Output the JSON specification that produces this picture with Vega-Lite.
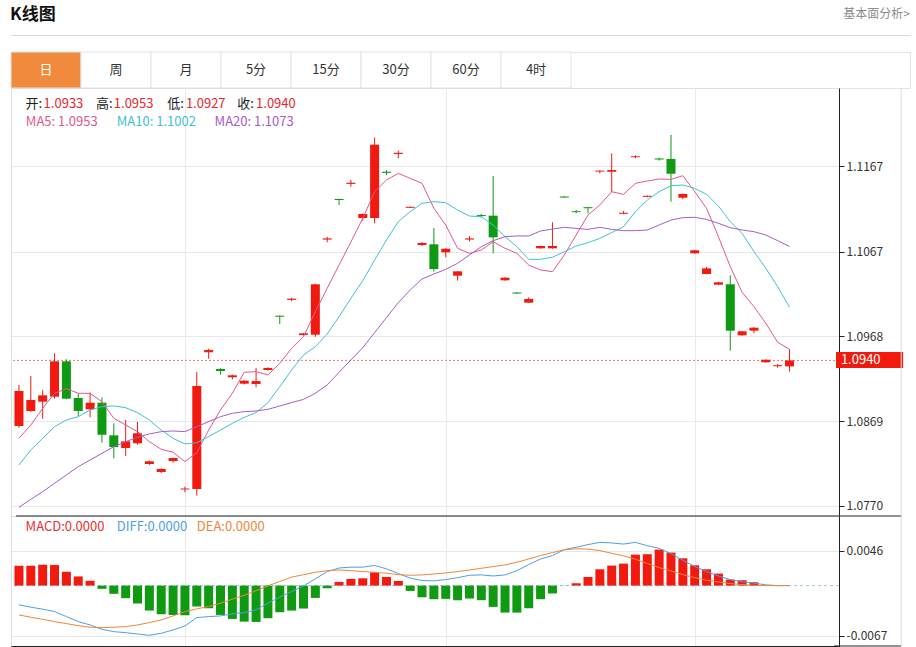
{
  "$schema": "https://vega.github.io/schema/vega-lite/v6.json",
  "background": "#ffffff",
  "padding": {"left": 10, "top": 0, "right": 0, "bottom": 0},
  "config": {
    "font": "Noto Sans CJK SC",
    "view": {"stroke": "#dedede"},
    "axis": {"labelFont": "Noto Sans CJK SC", "gridColor": "#e9e9e9", "gridWidth": 1}
  },
  "datasets": {
    "k": [
      {"i":0,"o":1.08634,"h":1.09113,"l":1.08614,"c":1.09043,"ma5":1.08490,"ma10":1.08179,"ma20":1.07684,"macd":0.00264,"diff":-0.00256,"dea":-0.00390},
      {"i":1,"o":1.08809,"h":1.09218,"l":1.08800,"c":1.08938,"ma5":1.08646,"ma10":1.08354,"ma20":1.07778,"macd":0.00264,"diff":-0.00287,"dea":-0.00421},
      {"i":2,"o":1.08918,"h":1.09054,"l":1.08719,"c":1.08992,"ma5":1.08840,"ma10":1.08490,"ma20":1.07867,"macd":0.00278,"diff":-0.00314,"dea":-0.00448},
      {"i":3,"o":1.08976,"h":1.09483,"l":1.08953,"c":1.09389,"ma5":1.09016,"ma10":1.08626,"ma20":1.07965,"macd":0.00273,"diff":-0.00345,"dea":-0.00479},
      {"i":4,"o":1.09389,"h":1.09413,"l":1.08946,"c":1.08953,"ma5":1.09070,"ma10":1.08704,"ma20":1.08062,"macd":0.00184,"diff":-0.00412,"dea":-0.00505},
      {"i":5,"o":1.08961,"h":1.09016,"l":1.08751,"c":1.08809,"ma5":1.09016,"ma10":1.08743,"ma20":1.08159,"macd":0.00122,"diff":-0.00479,"dea":-0.00532},
      {"i":6,"o":1.08829,"h":1.09023,"l":1.08736,"c":1.08906,"ma5":1.09016,"ma10":1.08821,"ma20":1.08237,"macd":0.00064,"diff":-0.00523,"dea":-0.00554},
      {"i":7,"o":1.08906,"h":1.08969,"l":1.08439,"c":1.08532,"ma5":1.08918,"ma10":1.08860,"ma20":1.08315,"macd":-0.00043,"diff":-0.00581,"dea":-0.00559},
      {"i":8,"o":1.08525,"h":1.08666,"l":1.08257,"c":1.08389,"ma5":1.08724,"ma10":1.08868,"ma20":1.08393,"macd":-0.00109,"diff":-0.00612,"dea":-0.00554},
      {"i":9,"o":1.08377,"h":1.08704,"l":1.08284,"c":1.08455,"ma5":1.08646,"ma10":1.08848,"ma20":1.08451,"macd":-0.00167,"diff":-0.00626,"dea":-0.00545},
      {"i":10,"o":1.08432,"h":1.08681,"l":1.08416,"c":1.08549,"ma5":1.08568,"ma10":1.08790,"ma20":1.08502,"macd":-0.00238,"diff":-0.00643,"dea":-0.00523},
      {"i":11,"o":1.08190,"h":1.08230,"l":1.08180,"c":1.08222,"ma5":1.08451,"ma10":1.08704,"ma20":1.08541,"macd":-0.00332,"diff":-0.00661,"dea":-0.00492},
      {"i":12,"o":1.08097,"h":1.08140,"l":1.08085,"c":1.08132,"ma5":1.08362,"ma10":1.08587,"ma20":1.08568,"macd":-0.00381,"diff":-0.00634,"dea":-0.00456},
      {"i":13,"o":1.08225,"h":1.08265,"l":1.08205,"c":1.08260,"ma5":1.08327,"ma10":1.08490,"ma20":1.08576,"macd":-0.00390,"diff":-0.00590,"dea":-0.00403},
      {"i":14,"o":1.07893,"h":1.07925,"l":1.07860,"c":1.07904,"ma5":1.08218,"ma10":1.08424,"ma20":1.08568,"macd":-0.00394,"diff":-0.00537,"dea":-0.00345},
      {"i":15,"o":1.07898,"h":1.09265,"l":1.07820,"c":1.09101,"ma5":1.08323,"ma10":1.08439,"ma20":1.08626,"macd":-0.00278,"diff":-0.00425,"dea":-0.00310},
      {"i":16,"o":1.09495,"h":1.09537,"l":1.09420,"c":1.09521,"ma5":1.08587,"ma10":1.08510,"ma20":1.08685,"macd":-0.00301,"diff":-0.00412,"dea":-0.00278},
      {"i":17,"o":1.09300,"h":1.09308,"l":1.09233,"c":1.09276,"ma5":1.08821,"ma10":1.08587,"ma20":1.08743,"macd":-0.00390,"diff":-0.00403,"dea":-0.00234},
      {"i":18,"o":1.09203,"h":1.09233,"l":1.09179,"c":1.09226,"ma5":1.09016,"ma10":1.08665,"ma20":1.08782,"macd":-0.00443,"diff":-0.00376,"dea":-0.00181},
      {"i":19,"o":1.09128,"h":1.09170,"l":1.09120,"c":1.09163,"ma5":1.09261,"ma10":1.08735,"ma20":1.08801,"macd":-0.00479,"diff":-0.00359,"dea":-0.00128},
      {"i":20,"o":1.09124,"h":1.09311,"l":1.09086,"c":1.09159,"ma5":1.09269,"ma10":1.08790,"ma20":1.08809,"macd":-0.00483,"diff":-0.00323,"dea":-0.00069},
      {"i":21,"o":1.09288,"h":1.09320,"l":1.09280,"c":1.09311,"ma5":1.09230,"ma10":1.08907,"ma20":1.08829,"macd":-0.00434,"diff":-0.00234,"dea":-0.00003},
      {"i":22,"o":1.09922,"h":1.09925,"l":1.09825,"c":1.09910,"ma5":1.09366,"ma10":1.09093,"ma20":1.08868,"macd":-0.00354,"diff":-0.00154,"dea":0.00055},
      {"i":23,"o":1.10107,"h":1.10132,"l":1.10090,"c":1.10121,"ma5":1.09541,"ma10":1.09288,"ma20":1.08907,"macd":-0.00332,"diff":-0.00078,"dea":0.00113},
      {"i":24,"o":1.09697,"h":1.09720,"l":1.09690,"c":1.09716,"ma5":1.09677,"ma10":1.09463,"ma20":1.08945,"macd":-0.00305,"diff":-0.00005,"dea":0.00145},
      {"i":25,"o":1.09700,"h":1.10295,"l":1.09677,"c":1.10289,"ma5":1.09969,"ma10":1.09560,"ma20":1.09016,"macd":-0.00164,"diff":0.00090,"dea":0.00177},
      {"i":26,"o":1.10811,"h":1.10844,"l":1.10779,"c":1.10825,"ma5":1.10242,"ma10":1.09708,"ma20":1.09113,"macd":-0.00035,"diff":0.00185,"dea":0.00199},
      {"i":27,"o":1.11285,"h":1.11288,"l":1.11215,"c":1.11273,"ma5":1.10514,"ma10":1.09911,"ma20":1.09261,"macd":0.00049,"diff":0.00234,"dea":0.00208},
      {"i":28,"o":1.11461,"h":1.11507,"l":1.11428,"c":1.11475,"ma5":1.10783,"ma10":1.10125,"ma20":1.09405,"macd":0.00089,"diff":0.00245,"dea":0.00199},
      {"i":29,"o":1.11063,"h":1.11115,"l":1.11031,"c":1.11110,"ma5":1.11059,"ma10":1.10331,"ma20":1.09549,"macd":0.00097,"diff":0.00245,"dea":0.00186},
      {"i":30,"o":1.11063,"h":1.12005,"l":1.11001,"c":1.11919,"ma5":1.11370,"ma10":1.10572,"ma20":1.09724,"macd":0.00177,"diff":0.00268,"dea":0.00177},
      {"i":31,"o":1.11603,"h":1.11623,"l":1.11565,"c":1.11590,"ma5":1.11507,"ma10":1.10806,"ma20":1.09899,"macd":0.00115,"diff":0.00223,"dea":0.00164},
      {"i":32,"o":1.11811,"h":1.11849,"l":1.11760,"c":1.11825,"ma5":1.11584,"ma10":1.11020,"ma20":1.10074,"macd":0.00062,"diff":0.00160,"dea":0.00146},
      {"i":33,"o":1.11182,"h":1.11196,"l":1.11180,"c":1.11194,"ma5":1.11526,"ma10":1.11137,"ma20":1.10222,"macd":-0.00071,"diff":0.00100,"dea":0.00137},
      {"i":34,"o":1.10748,"h":1.10783,"l":1.10736,"c":1.10771,"ma5":1.11468,"ma10":1.11234,"ma20":1.10351,"macd":-0.00155,"diff":0.00067,"dea":0.00142},
      {"i":35,"o":1.10756,"h":1.10946,"l":1.10436,"c":1.10467,"ma5":1.11176,"ma10":1.11254,"ma20":1.10409,"macd":-0.00181,"diff":0.00064,"dea":0.00155},
      {"i":36,"o":1.10662,"h":1.10710,"l":1.10604,"c":1.10704,"ma5":1.10981,"ma10":1.11242,"ma20":1.10463,"macd":-0.00176,"diff":0.00080,"dea":0.00168},
      {"i":37,"o":1.10389,"h":1.10445,"l":1.10331,"c":1.10440,"ma5":1.10709,"ma10":1.11156,"ma20":1.10534,"macd":-0.00195,"diff":0.00105,"dea":0.00186},
      {"i":38,"o":1.10811,"h":1.10850,"l":1.10790,"c":1.10825,"ma5":1.10650,"ma10":1.11086,"ma20":1.10631,"macd":-0.00172,"diff":0.00137,"dea":0.00208},
      {"i":39,"o":1.11097,"h":1.11110,"l":1.11071,"c":1.11085,"ma5":1.10689,"ma10":1.11078,"ma20":1.10728,"macd":-0.00194,"diff":0.00142,"dea":0.00230},
      {"i":40,"o":1.11090,"h":1.11553,"l":1.10651,"c":1.10837,"ma5":1.10786,"ma10":1.10981,"ma20":1.10798,"macd":-0.00283,"diff":0.00128,"dea":0.00253},
      {"i":41,"o":1.10335,"h":1.10372,"l":1.10330,"c":1.10366,"ma5":1.10709,"ma10":1.10845,"ma20":1.10845,"macd":-0.00359,"diff":0.00142,"dea":0.00275},
      {"i":42,"o":1.10193,"h":1.10196,"l":1.10178,"c":1.10181,"ma5":1.10650,"ma10":1.10728,"ma20":1.10853,"macd":-0.00359,"diff":0.00199,"dea":0.00310},
      {"i":43,"o":1.10074,"h":1.10137,"l":1.10070,"c":1.10117,"ma5":1.10514,"ma10":1.10580,"ma20":1.10853,"macd":-0.00301,"diff":0.00279,"dea":0.00354},
      {"i":44,"o":1.10709,"h":1.10740,"l":1.10705,"c":1.10736,"ma5":1.10456,"ma10":1.10580,"ma20":1.10911,"macd":-0.00181,"diff":0.00354,"dea":0.00399},
      {"i":45,"o":1.10709,"h":1.11013,"l":1.10705,"c":1.10736,"ma5":1.10436,"ma10":1.10604,"ma20":1.10934,"macd":-0.00105,"diff":0.00399,"dea":0.00439},
      {"i":46,"o":1.11314,"h":1.11317,"l":1.11299,"c":1.11302,"ma5":1.10631,"ma10":1.10670,"ma20":1.10954,"macd":-0.00002,"diff":0.00478,"dea":0.00476},
      {"i":47,"o":1.11142,"h":1.11156,"l":1.11118,"c":1.11131,"ma5":1.10864,"ma10":1.10736,"ma20":1.10942,"macd":0.00031,"diff":0.00510,"dea":0.00490},
      {"i":48,"o":1.11189,"h":1.11192,"l":1.11118,"c":1.11177,"ma5":1.11098,"ma10":1.10775,"ma20":1.10930,"macd":0.00115,"diff":0.00545,"dea":0.00485},
      {"i":49,"o":1.11605,"h":1.11620,"l":1.11585,"c":1.11616,"ma5":1.11215,"ma10":1.10825,"ma20":1.10954,"macd":0.00217,"diff":0.00575,"dea":0.00465},
      {"i":50,"o":1.11603,"h":1.11818,"l":1.11370,"c":1.11623,"ma5":1.11370,"ma10":1.10892,"ma20":1.10930,"macd":0.00266,"diff":0.00567,"dea":0.00430},
      {"i":51,"o":1.11112,"h":1.11145,"l":1.11108,"c":1.11124,"ma5":1.11339,"ma10":1.10962,"ma20":1.10915,"macd":0.00292,"diff":0.00552,"dea":0.00395},
      {"i":52,"o":1.11773,"h":1.11795,"l":1.11760,"c":1.11784,"ma5":1.11468,"ma10":1.11137,"ma20":1.10915,"macd":0.00412,"diff":0.00575,"dea":0.00350},
      {"i":53,"o":1.11310,"h":1.11325,"l":1.11305,"c":1.11322,"ma5":1.11495,"ma10":1.11273,"ma20":1.10923,"macd":0.00417,"diff":0.00530,"dea":0.00295},
      {"i":54,"o":1.11758,"h":1.11767,"l":1.11732,"c":1.11746,"ma5":1.11518,"ma10":1.11370,"ma20":1.10981,"macd":0.00479,"diff":0.00495,"dea":0.00240},
      {"i":55,"o":1.11752,"h":1.12032,"l":1.11253,"c":1.11580,"ma5":1.11514,"ma10":1.11440,"ma20":1.11039,"macd":0.00439,"diff":0.00425,"dea":0.00195},
      {"i":56,"o":1.11300,"h":1.11348,"l":1.11281,"c":1.11343,"ma5":1.11557,"ma10":1.11448,"ma20":1.11067,"macd":0.00363,"diff":0.00337,"dea":0.00146},
      {"i":57,"o":1.10651,"h":1.10690,"l":1.10645,"c":1.10686,"ma5":1.11370,"ma10":1.11409,"ma20":1.11071,"macd":0.00270,"diff":0.00255,"dea":0.00106},
      {"i":58,"o":1.10409,"h":1.10491,"l":1.10405,"c":1.10475,"ma5":1.11176,"ma10":1.11339,"ma20":1.11047,"macd":0.00217,"diff":0.00186,"dea":0.00071},
      {"i":59,"o":1.10284,"h":1.10318,"l":1.10280,"c":1.10312,"ma5":1.10845,"ma10":1.11203,"ma20":1.11001,"macd":0.00160,"diff":0.00128,"dea":0.00049},
      {"i":60,"o":1.10289,"h":1.10394,"l":1.09513,"c":1.09747,"ma5":1.10495,"ma10":1.11020,"ma20":1.10950,"macd":0.00080,"diff":0.00080,"dea":0.00027},
      {"i":61,"o":1.09693,"h":1.09745,"l":1.09688,"c":1.09740,"ma5":1.10195,"ma10":1.10884,"ma20":1.10923,"macd":0.00071,"diff":0.00050,"dea":0.00013},
      {"i":62,"o":1.09747,"h":1.09788,"l":1.09716,"c":1.09782,"ma5":1.10027,"ma10":1.10670,"ma20":1.10903,"macd":0.00044,"diff":0.00033,"dea":0.00004},
      {"i":63,"o":1.09378,"h":1.09412,"l":1.09373,"c":1.09408,"ma5":1.09833,"ma10":1.10475,"ma20":1.10864,"macd":0,"diff":0.00010,"dea":0},
      {"i":64,"o":1.09332,"h":1.09358,"l":1.09315,"c":1.09344,"ma5":1.09611,"ma10":1.10261,"ma20":1.10798,"macd":0,"diff":0,"dea":0},
      {"i":65,"o":1.0933,"h":1.0953,"l":1.0927,"c":1.0940,"ma5":1.0953,"ma10":1.1002,"ma20":1.1073,"macd":0,"diff":0,"dea":0}
    ]
  },
  "bounds": "flush",
  "spacing": 17,
  "vconcat": [
    {
      "width": 899,
      "height": 35,
      "view": {"stroke": null},
      "data": {"values": [{"t": "K线图", "side": "left"}, {"t": "基本面分析>", "side": "right"}]},
      "layer": [
        {
          "transform": [{"filter": "datum.side === 'left'"}],
          "mark": {"type": "text", "align": "left", "baseline": "middle", "fontSize": 17, "fontWeight": "bold", "color": "#111111", "dy": -3, "dx": -1},
          "encoding": {
            "x": {"field": "side", "type": "nominal", "scale": {"type": "point", "domain": ["left", "right"], "padding": 0}, "axis": {"labels": false, "ticks": false, "title": null, "grid": false, "domainColor": "#d9d9d9"}},
            "text": {"field": "t"}
          }
        },
        {
          "transform": [{"filter": "datum.side === 'right'"}],
          "mark": {"type": "text", "align": "right", "baseline": "middle", "fontSize": 12, "color": "#8c8c8c", "dy": -4},
          "encoding": {
            "x": {"field": "side", "type": "nominal", "scale": {"type": "point", "domain": ["left", "right"], "padding": 0}, "axis": {"labels": false, "ticks": false, "title": null, "grid": false, "domainColor": "#d9d9d9"}},
            "text": {"field": "t"}
          }
        }
      ]
    },
    {
      "bounds": "flush",
      "spacing": 0,
      "vconcat": [
        {
          "width": 899,
          "height": 36,
          "view": {"stroke": "#e3e3e3"},
          "data": {"values": [
            {"tab": "日", "sel": 1}, {"tab": "周", "sel": 0}, {"tab": "月", "sel": 0}, {"tab": "5分", "sel": 0},
            {"tab": "15分", "sel": 0}, {"tab": "30分", "sel": 0}, {"tab": "60分", "sel": 0}, {"tab": "4时", "sel": 0}
          ]},
          "layer": [
            {
              "mark": {"type": "rect", "stroke": "#e3e3e3", "strokeWidth": 1},
              "encoding": {
                "x": {"field": "tab", "type": "nominal", "sort": null, "scale": {"type": "band", "range": [0, 560], "paddingInner": 0, "paddingOuter": 0}, "axis": null},
                "fill": {"condition": {"test": "datum.sel === 1", "value": "#f18a3c"}, "value": "#ffffff"}
              }
            },
            {
              "mark": {"type": "text", "baseline": "middle", "fontSize": 13},
              "encoding": {
                "x": {"field": "tab", "type": "nominal", "sort": null, "scale": {"type": "band", "range": [0, 560], "paddingInner": 0, "paddingOuter": 0}, "axis": null},
                "text": {"field": "tab"},
                "color": {"condition": {"test": "datum.sel === 1", "value": "#ffffff"}, "value": "#333333"}
              }
            }
          ]
        },
        {
          "width": 828,
          "height": 428,
          "view": {"stroke": "#dedede"},
          "data": {"name": "k"},
          "layer": [
            {
              "data": {"values": [{"price": 1.094, "label": "1.0940"}]},
              "layer": [
                {
                  "mark": {"type": "rule", "color": "#f07a7a", "strokeDash": [2, 2], "strokeWidth": 1},
                  "encoding": {
                    "y": {"field": "price", "type": "quantitative",
                      "scale": {"domain": [1.07583, 1.12581], "nice": false, "zero": false},
                      "axis": {"orient": "right", "values": [1.077, 1.0869, 1.0968, 1.1067, 1.1167], "format": ".4f", "grid": true, "domainColor": "#222222", "tickColor": "#222222", "tickSize": 5, "labelFontSize": 12, "labelColor": "#333333", "labelPadding": 2, "title": null}}
                  }
                },
                {
                  "mark": {"type": "rect", "color": "#f21a0e"},
                  "encoding": {"x": {"datum": 68.92}, "x2": {"datum": 74.58}, "y": {"datum": 1.09498}, "y2": {"datum": 1.09311}}
                },
                {
                  "mark": {"type": "text", "align": "left", "baseline": "middle", "fontSize": 13, "color": "#ffffff"},
                  "encoding": {"x": {"datum": 69.33}, "y": {"field": "price", "type": "quantitative"}, "text": {"field": "label"}}
                },
                {
                  "mark": {"type": "rule", "color": "#dedede"},
                  "encoding": {"x": {"datum": 74.42}}
                }
              ]
            },
            {
              "mark": {"type": "rule", "strokeWidth": 1},
              "encoding": {
                "x": {"field": "i", "type": "quantitative", "scale": {"domain": [-0.25, 68.75], "nice": false, "zero": false},
                  "axis": {"values": [14, 36, 57], "grid": true, "labels": false, "ticks": false, "domain": true, "domainColor": "#222222", "title": null}},
                "y": {"field": "l", "type": "quantitative", "title": null},
                "y2": {"field": "h"},
                "color": {"condition": {"test": "datum.c >= datum.o", "value": "#f21a0e"}, "value": "#0f9a12"}
              }
            },
            {
              "mark": {"type": "bar", "size": 9, "clip": true},
              "encoding": {
                "x": {"field": "i", "type": "quantitative"},
                "y": {"field": "o", "type": "quantitative", "title": null},
                "y2": {"field": "c"},
                "color": {"condition": {"test": "datum.c >= datum.o", "value": "#f21a0e"}, "value": "#0f9a12"}
              }
            },
            {
              "mark": {"type": "line", "color": "#e5578d", "strokeWidth": 1},
              "encoding": {"x": {"field": "i", "type": "quantitative"}, "y": {"field": "ma5", "type": "quantitative", "title": null}}
            },
            {
              "mark": {"type": "line", "color": "#3fc2d6", "strokeWidth": 1},
              "encoding": {"x": {"field": "i", "type": "quantitative"}, "y": {"field": "ma10", "type": "quantitative", "title": null}}
            },
            {
              "mark": {"type": "line", "color": "#a85cc6", "strokeWidth": 1},
              "encoding": {"x": {"field": "i", "type": "quantitative"}, "y": {"field": "ma20", "type": "quantitative", "title": null}}
            },
            {
              "data": {"values": [{"n": 1}]},
              "layer": [
                {"mark": {"type": "text", "align": "left", "baseline": "middle", "fontSize": 13, "color": "#222222"}, "encoding": {"x": {"datum": 0.56}, "y": {"datum": 1.12394}, "text": {"value": "开:"}}},
                {"mark": {"type": "text", "align": "left", "baseline": "middle", "fontSize": 13, "color": "#e8282c"}, "encoding": {"x": {"datum": 2.08}, "y": {"datum": 1.12394}, "text": {"value": "1.0933"}}},
                {"mark": {"type": "text", "align": "left", "baseline": "middle", "fontSize": 13, "color": "#222222"}, "encoding": {"x": {"datum": 6.5}, "y": {"datum": 1.12394}, "text": {"value": "高:"}}},
                {"mark": {"type": "text", "align": "left", "baseline": "middle", "fontSize": 13, "color": "#e8282c"}, "encoding": {"x": {"datum": 8.0}, "y": {"datum": 1.12394}, "text": {"value": "1.0953"}}},
                {"mark": {"type": "text", "align": "left", "baseline": "middle", "fontSize": 13, "color": "#222222"}, "encoding": {"x": {"datum": 12.5}, "y": {"datum": 1.12394}, "text": {"value": "低:"}}},
                {"mark": {"type": "text", "align": "left", "baseline": "middle", "fontSize": 13, "color": "#e8282c"}, "encoding": {"x": {"datum": 14.08}, "y": {"datum": 1.12394}, "text": {"value": "1.0927"}}},
                {"mark": {"type": "text", "align": "left", "baseline": "middle", "fontSize": 13, "color": "#222222"}, "encoding": {"x": {"datum": 18.42}, "y": {"datum": 1.12394}, "text": {"value": "收:"}}},
                {"mark": {"type": "text", "align": "left", "baseline": "middle", "fontSize": 13, "color": "#e8282c"}, "encoding": {"x": {"datum": 20.0}, "y": {"datum": 1.12394}, "text": {"value": "1.0940"}}},
                {"mark": {"type": "text", "align": "left", "baseline": "middle", "fontSize": 13, "color": "#e5578d"}, "encoding": {"x": {"datum": 0.58}, "y": {"datum": 1.12184}, "text": {"value": "MA5: 1.0953"}}},
                {"mark": {"type": "text", "align": "left", "baseline": "middle", "fontSize": 13, "color": "#3fc2d6"}, "encoding": {"x": {"datum": 8.25}, "y": {"datum": 1.12184}, "text": {"value": "MA10: 1.1002"}}},
                {"mark": {"type": "text", "align": "left", "baseline": "middle", "fontSize": 13, "color": "#a85cc6"}, "encoding": {"x": {"datum": 16.5}, "y": {"datum": 1.12184}, "text": {"value": "MA20: 1.1073"}}}
              ]
            }
          ]
        },
        {
          "width": 828,
          "height": 130,
          "view": {"stroke": "#dedede"},
          "data": {"name": "k"},
          "layer": [
            {
              "data": {"values": [{"z": 0}]},
              "layer": [
                {
                  "mark": {"type": "rule", "color": "#a6c8e8", "strokeDash": [3, 3], "strokeWidth": 1},
                  "encoding": {
                    "y": {"field": "z", "type": "quantitative",
                      "scale": {"domain": [-0.00803, 0.009253], "nice": false, "zero": false},
                      "axis": {"orient": "right", "values": [0.0046, -0.0067], "labelExpr": "replace(format(datum.value, '.4f'), '−', '-')", "grid": true, "domainColor": "#222222", "tickColor": "#222222", "tickSize": 5, "labelFontSize": 12, "labelColor": "#333333", "labelPadding": 2, "title": null}}
                  }
                },
                {
                  "mark": {"type": "rule", "color": "#222222", "strokeWidth": 1},
                  "encoding": {"x": {"datum": -0.25}, "x2": {"datum": 74.42}, "y": {"datum": 0.009253}}
                },
                {
                  "mark": {"type": "rule", "color": "#222222", "strokeWidth": 1},
                  "encoding": {"x": {"datum": 68.75}, "x2": {"datum": 74.42}, "y": {"datum": -0.00803}}
                },
                {
                  "mark": {"type": "rule", "color": "#dedede"},
                  "encoding": {"x": {"datum": 74.42}}
                }
              ]
            },
            {
              "mark": {"type": "bar", "size": 9, "clip": true},
              "encoding": {
                "x": {"field": "i", "type": "quantitative", "scale": {"domain": [-0.25, 68.75], "nice": false, "zero": false},
                  "axis": {"values": [14, 36, 57], "grid": true, "labels": false, "ticks": false, "domain": true, "domainColor": "#222222", "title": null}},
                "y": {"field": "macd", "type": "quantitative", "title": null},
                "y2": {"datum": 0},
                "color": {"condition": {"test": "datum.macd >= 0", "value": "#f21a0e"}, "value": "#0f9a12"}
              }
            },
            {
              "mark": {"type": "line", "color": "#4f9fe6", "strokeWidth": 1},
              "encoding": {"x": {"field": "i", "type": "quantitative"}, "y": {"field": "diff", "type": "quantitative", "title": null}}
            },
            {
              "mark": {"type": "line", "color": "#f0873a", "strokeWidth": 1},
              "encoding": {"x": {"field": "i", "type": "quantitative"}, "y": {"field": "dea", "type": "quantitative", "title": null}}
            },
            {
              "data": {"values": [{"n": 1}]},
              "layer": [
                {"mark": {"type": "text", "align": "left", "baseline": "middle", "fontSize": 13, "color": "#e5312e"}, "encoding": {"x": {"datum": 0.56}, "y": {"datum": 0.0078}, "text": {"value": "MACD:0.0000"}}},
                {"mark": {"type": "text", "align": "left", "baseline": "middle", "fontSize": 13, "color": "#4f9fe6"}, "encoding": {"x": {"datum": 8.25}, "y": {"datum": 0.0078}, "text": {"value": "DIFF:0.0000"}}},
                {"mark": {"type": "text", "align": "left", "baseline": "middle", "fontSize": 13, "color": "#f0873a"}, "encoding": {"x": {"datum": 15.0}, "y": {"datum": 0.0078}, "text": {"value": "DEA:0.0000"}}}
              ]
            }
          ]
        }
      ]
    }
  ]
}
